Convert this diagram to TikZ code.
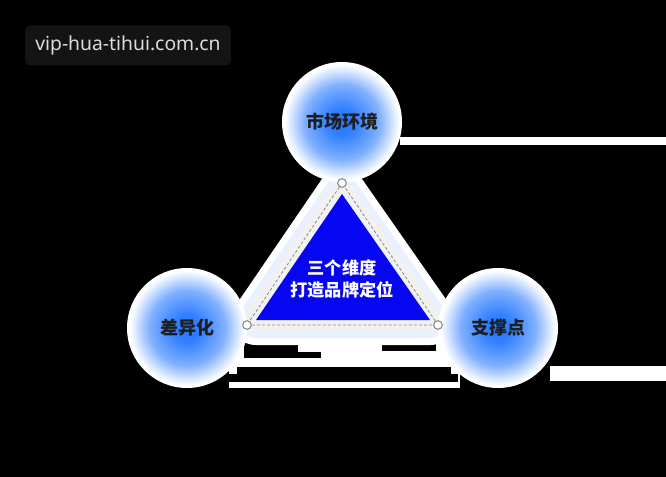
\documentclass[tikz,border=0pt]{standalone}
\usepackage{fontspec}
\setmainfont{Noto Sans}
\newfontfamily\cjk{Noto Sans CJK SC}
\usepackage{tikz}
\usetikzlibrary{positioning}

\definecolor{glowblue}{HTML}{2477FF}
\definecolor{triblue}{HTML}{0606F2}
\definecolor{plategray}{HTML}{F1F1F1}
\definecolor{markbox}{HTML}{141414}
\definecolor{marktext}{HTML}{DCDCDC}
\definecolor{ringtext}{HTML}{1E1E1E}
\definecolor{dashgray}{HTML}{8A8A8A}

\pgfdeclareradialshading{blueglow}{\pgfpoint{0bp}{0bp}}{%
  color(0bp)=(glowblue); color(6bp)=(glowblue!93!white); color(16bp)=(glowblue!58!white);
  color(21.5bp)=(glowblue!20!white); color(24.5bp)=(white); color(50bp)=(white)}

\begin{document}
\begin{tikzpicture}[x=0.75pt,y=-0.75pt,
    ringlabel/.style={font=\cjk\bfseries\fontsize{13.5}{16}\selectfont, text=ringtext},
    corner/.style={circle, draw=dashgray, fill=white, line width=0.8pt, inner sep=0pt, minimum size=6.5pt}]
    \def\bluetri{(342,194) -- (256,320) -- (430,320) -- cycle}

    \fill[black] (0,0) rectangle (666,477);
    \useasboundingbox (0,0) rectangle (666,477);

    \node[fill=markbox, rounded corners=4.5pt, minimum width=154.5pt, minimum height=30pt,
      text=marktext, font=\fontsize{14.5}{17}\selectfont] (mark) at (128,45.5) {vip-hua-tihui.com.cn};

    \fill[white] (400,137) rectangle (666,145);
    \fill[white] (550,366) rectangle (666,381);
    \fill[white] (229,320) rectangle (460,388);
    \fill[black] (244,343) rectangle (298,358);
    \fill[black] (244,352) rectangle (321,358);
    \fill[black] (382,343) rectangle (436,351);
    \fill[black] (237,367) rectangle (451,374);
    \fill[black] (229,374) rectangle (458,382);

    \filldraw[white, line width=37.5pt, line join=round] \bluetri;
    \filldraw[glowblue!10!white, line width=27pt, line join=round] \bluetri;
    \filldraw[plategray, line width=18pt, line join=round] \bluetri;

    \fill[white] (342,122) circle[radius=45pt];
    \fill[white] (187,328) circle[radius=45pt];
    \fill[white] (498,328) circle[radius=45pt];
    \shade[shading=blueglow] (342,122) circle[radius=44pt];
    \shade[shading=blueglow] (187,328) circle[radius=44pt];
    \shade[shading=blueglow] (498,328) circle[radius=44pt];

    \node[ringlabel] (market) at (342,122) {市场环境};
    \node[ringlabel] (diff) at (187,328) {差异化};
    \node[ringlabel] (support) at (498,328) {支撑点};

    \fill[triblue] \bluetri;
    \node[align=center, text=white, font=\cjk\bfseries\fontsize{12.9}{16.5}\selectfont] (core) at (342,279) {三个维度\\打造品牌定位};

    \node[corner] (vtop) at (342,183) {};
    \node[corner] (vleft) at (247,325) {};
    \node[corner] (vright) at (438,325) {};
    \draw[dashgray, line width=0.6pt, dash pattern=on 2.2pt off 1.6pt] (vtop) -- (vleft) -- (vright) -- (vtop);
  \end{tikzpicture}
\end{document}
